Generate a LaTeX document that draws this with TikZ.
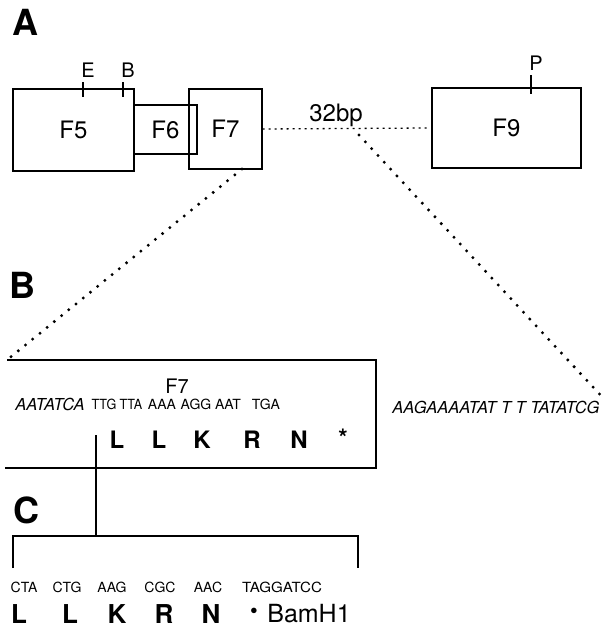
\documentclass[tikz,border=0pt]{standalone}
\usepackage{fontspec}
\usepackage{graphicx}
\setmainfont{TeX Gyre Heros}
\newcommand\fsz[1]{\fontsize{#1}{#1}\selectfont}
\newcommand\narrow[1]{\scalebox{0.9}[1]{#1}}
\begin{document}
\begin{tikzpicture}[x=1pt,y=-1pt,
  line width=1.2pt,
  frag/.style={draw, rectangle, inner sep=0pt, font=\fsz{24}},
  lab/.style={inner sep=0pt, font=\bfseries\fsz{36}},
  site/.style={inner sep=0pt, font=\fsz{20}},
  codon/.style={inner sep=0pt, font=\fsz{14}},
  flank/.style={inner sep=0pt, font=\itshape\fsz{16.5}},
  aa/.style={inner sep=0pt, font=\bfseries\fsz{24}},
  aaC/.style={inner sep=0pt, font=\bfseries\fsz{26}},
  bigdots/.style={line width=3.3pt, line cap=round, dash pattern=on 0pt off 9.3pt},
  finedots/.style={line width=1.3pt, dash pattern=on 2pt off 4pt}]
\useasboundingbox (0,0) rectangle (608,630);

% panel letters
\node[lab] (pA) at (25,22) {A};
\node[lab] (pB) at (22,285) {B};
\node[lab] (pC) at (26,510) {C};

% panel A: fragment map
\node[frag, minimum width=121pt, minimum height=82pt] (F5) at (73.5,130) {F5};
\node[frag, minimum width=63pt, minimum height=49pt] (F6) at (165.5,129.5) {F6};
\node[frag, minimum width=73pt, minimum height=80pt] (F7) at (225.5,129) {F7};
\node[frag, minimum width=149pt, minimum height=80pt] (F9) at (506.5,128) {F9};

% restriction sites
\coordinate (Et) at (83,82);  \coordinate (Eb) at (83,97);
\coordinate (Bt) at (123,82); \coordinate (Bb) at (123,97);
\coordinate (Pt) at (531,75); \coordinate (Pb) at (531,94);
\draw (Et) -- (Eb);
\draw (Bt) -- (Bb);
\draw (Pt) -- (Pb);
\node[site] (sE) at (88,70) {E};
\node[site] (sB) at (128,70) {B};
\node[site] (sP) at (536,63) {P};

% 32 bp gap between F7 and F9
\coordinate (gapEnd) at (427,128);
\draw[finedots] (F7.east) -- (gapEnd);
\node[inner sep=0pt, font=\fsz{24}] (gap) at (336,115) {32bp};

% expansion lines to panel B
\coordinate (F7foot) at (242,169);
\coordinate (gapFoot) at (359,135);
\coordinate (bTL) at (7,360);
\coordinate (bTR) at (376,360);
\coordinate (bBR) at (376,468);
\coordinate (bBL) at (5,468);
\coordinate (seqEnd) at (605,400);
\draw[bigdots] (F7foot) -- (bTL);
\draw[bigdots] (gapFoot) -- (seqEnd);

% panel B frame
\draw (bTL) -- (bTR) -- (bBR) -- (bBL);

\node[inner sep=0pt, font=\fsz{20}] (F7b) at (177,386) {F7};
\node[flank] (flL) at (50,404) {AATATCA};
\node[codon] (c1) at (104,404) {\narrow{TTG}};
\node[codon] (c2) at (131,404) {\narrow{TTA}};
\node[codon] (c3) at (162,404) {AAA};
\node[codon] (c4) at (196,404) {AGG};
\node[codon] (c5) at (228,404) {AAT};
\node[codon] (c6) at (266,404) {TGA};
\node[flank] (flR) at (496,407) {AAGAAAATAT T T TATATCG};

\node[aa] (a1) at (117,440) {L};
\node[aa] (a2) at (159,440) {L};
\node[aa] (a3) at (202,440) {K};
\node[aa] (a4) at (252,440) {R};
\node[aa] (a5) at (299,440) {N};
\node[aa] (a6) at (343,438) {*};

% link from panel B to panel C
\coordinate (linkTop) at (96,435);
\coordinate (linkBot) at (96,536);
\draw (linkTop) -- (linkBot);

% panel C bracket
\coordinate (cL) at (13,536);  \coordinate (cLd) at (13,568);
\coordinate (cR) at (358,536); \coordinate (cRd) at (358,568);
\draw (cLd) -- (cL) -- (cR) -- (cRd);

\node[codon] (d1) at (24,587) {CTA};
\node[codon] (d2) at (67,587) {CTG};
\node[codon] (d3) at (112,587) {AAG};
\node[codon] (d4) at (160,587) {CGC};
\node[codon] (d5) at (208,587) {AAC};
\node[codon] (d6) at (282,587) {\scalebox{1.08}[1]{TAGGATCC}};

\node[aaC] (b1) at (19,614) {L};
\node[aaC] (b2) at (70,614) {L};
\node[aaC] (b3) at (117,614) {K};
\node[aaC] (b4) at (164,614) {R};
\node[aaC] (b5) at (211,614) {N};
\node[inner sep=0pt, font=\fsz{22}] (b6) at (254,613) {•};
\node[inner sep=0pt, font=\fsz{25}] (bam) at (309,614) {BamH1};
\end{tikzpicture}
\end{document}
